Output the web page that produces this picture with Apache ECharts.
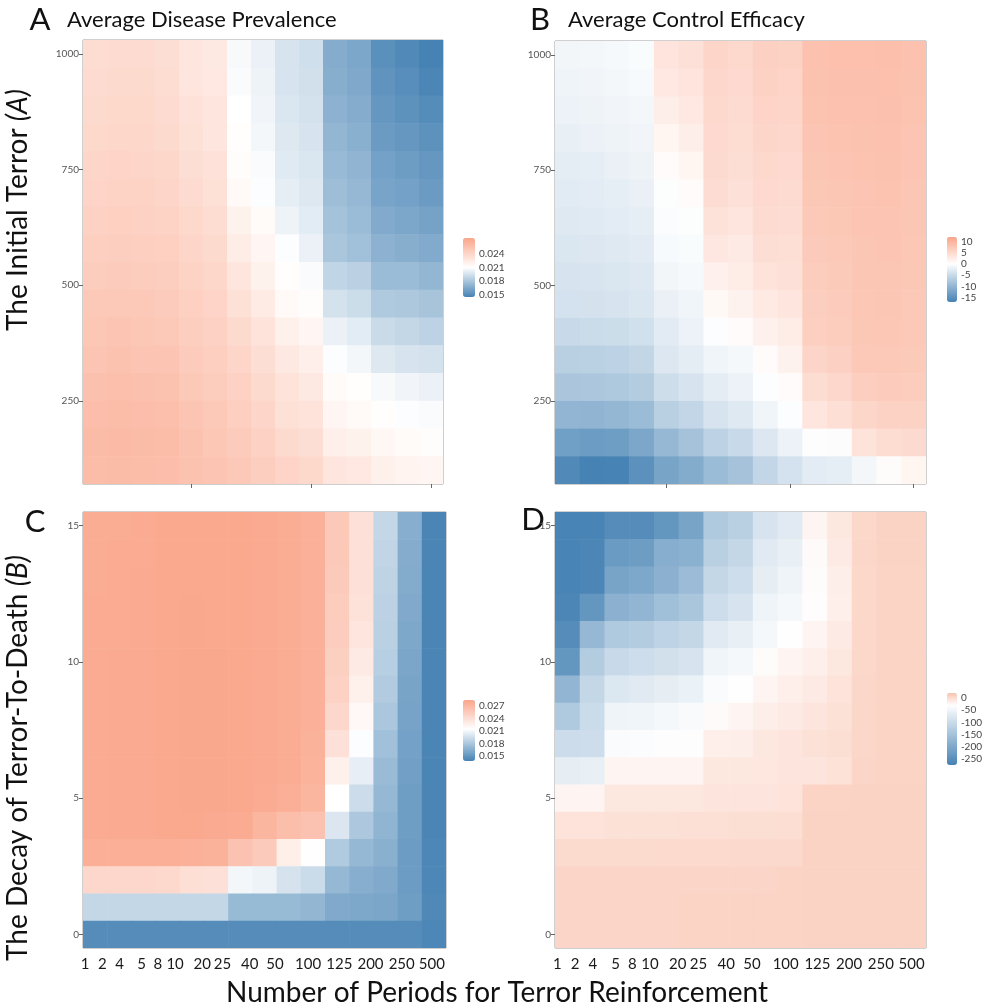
<!DOCTYPE html>
<html>
<head>
<meta charset="utf-8">
<script src="https://cdn.jsdelivr.net/npm/echarts@6/dist/echarts.min.js"></script>
<style>
html, body { margin: 0; padding: 0; background: #fff; }
#main { width: 985px; height: 1008px; }
</style>
</head>
<body>
<div id="main"></div>
<script>
// x categories shared by all four panels
var periods = ['1', '2', '4', '5', '8', '10', '20', '25', '40', '50', '100', '125', '200', '250', '500'];
// row levels, top row first
var terrorLevels = [1000, 940, 880, 820, 760, 700, 640, 580, 520, 460, 400, 340, 280, 220, 160, 100];
var decayLevels = [15, 14, 13, 12, 11, 10, 9, 8, 7, 6, 5, 4, 3, 2, 1, 0];
var terrorTicks = [250, 500, 750, 1000];
var decayTicks = [0, 5, 10, 15];

// A: average disease prevalence vs initial terror
var prevalenceByTerror = [
    [.0235, .0236, .0236, .0234, .0228, .0226, .0207, .0203, .0196, .0193, .0167, .0164, .0152, .0149, .0145],
    [.0236, .0237, .0237, .0235, .0229, .0227, .0208, .0204, .0196, .0194, .0168, .0165, .0154, .0151, .0147],
    [.0237, .0238, .0238, .0236, .0231, .0228, .0210, .0205, .0197, .0195, .0170, .0167, .0156, .0153, .0150],
    [.0238, .0239, .0239, .0237, .0232, .0229, .0211, .0206, .0198, .0196, .0172, .0169, .0158, .0156, .0153],
    [.0240, .0241, .0240, .0239, .0234, .0231, .0212, .0208, .0199, .0197, .0174, .0171, .0161, .0159, .0156],
    [.0241, .0242, .0242, .0240, .0236, .0233, .0214, .0209, .0201, .0198, .0176, .0173, .0163, .0161, .0158],
    [.0243, .0244, .0243, .0242, .0238, .0235, .0220, .0213, .0204, .0200, .0178, .0175, .0166, .0164, .0162],
    [.0245, .0246, .0245, .0244, .0240, .0237, .0224, .0217, .0209, .0203, .0180, .0177, .0170, .0168, .0166],
    [.0247, .0248, .0247, .0246, .0242, .0239, .0229, .0220, .0211, .0208, .0188, .0186, .0175, .0175, .0172],
    [.0249, .0250, .0249, .0248, .0244, .0241, .0233, .0225, .0214, .0212, .0195, .0192, .0182, .0181, .0179],
    [.0251, .0252, .0251, .0250, .0246, .0243, .0237, .0230, .0221, .0217, .0203, .0200, .0191, .0189, .0187],
    [.0253, .0254, .0253, .0252, .0248, .0245, .0240, .0234, .0226, .0222, .0209, .0206, .0198, .0196, .0195],
    [.0255, .0256, .0255, .0254, .0250, .0247, .0243, .0237, .0230, .0226, .0213, .0211, .0207, .0205, .0203],
    [.0257, .0258, .0257, .0256, .0252, .0249, .0245, .0240, .0233, .0230, .0217, .0214, .0211, .0209, .0208],
    [.0259, .0260, .0259, .0258, .0254, .0251, .0248, .0243, .0237, .0234, .0222, .0220, .0216, .0213, .0212],
    [.0258, .0259, .0258, .0257, .0254, .0252, .0250, .0246, .0241, .0238, .0228, .0227, .0221, .0218, .0217]
];

// B: average control efficacy vs initial terror
var efficacyByTerror = [
    [-1.2, -1.0, -0.8, -0.5, 3.6, 4.0, 5.6, 5.2, 6.2, 6.0, 8.2, 8.4, 8.4, 8.5, 8.2],
    [-1.5, -1.3, -1.0, -0.7, 3.1, 3.6, 5.4, 5.0, 6.0, 5.8, 8.1, 8.3, 8.3, 8.4, 8.1],
    [-1.8, -1.6, -1.3, -1.0, 2.3, 3.1, 5.2, 4.8, 5.8, 5.6, 8.0, 8.2, 8.2, 8.3, 8.0],
    [-2.1, -1.9, -1.6, -1.3, 1.3, 2.3, 5.0, 4.6, 5.5, 5.3, 7.8, 8.0, 8.1, 8.2, 7.9],
    [-2.5, -2.3, -2.0, -1.7, 0.5, 1.3, 4.9, 4.4, 5.2, 5.0, 7.6, 7.8, 8.0, 8.1, 7.8],
    [-2.8, -2.6, -2.3, -2.0, -0.2, 0.5, 4.5, 4.0, 5.0, 4.8, 7.4, 7.6, 7.9, 8.0, 7.7],
    [-3.0, -2.9, -2.6, -2.3, -0.4, -0.2, 3.9, 3.5, 4.7, 4.5, 7.2, 7.4, 7.8, 7.9, 7.6],
    [-3.4, -3.2, -3.0, -2.7, -0.7, -0.5, 3.2, 2.8, 4.4, 4.3, 7.0, 7.2, 7.7, 7.8, 7.5],
    [-3.7, -3.6, -3.4, -3.1, -1.2, -0.8, 2.0, 2.6, 3.8, 4.1, 6.8, 7.1, 7.6, 7.7, 7.4],
    [-4.0, -3.9, -3.7, -3.4, -2.0, -1.4, 0.9, 1.7, 2.9, 3.4, 6.6, 6.9, 7.5, 7.6, 7.3],
    [-5.0, -4.9, -4.7, -4.3, -2.7, -1.8, -0.3, 0.5, 2.0, 2.6, 6.5, 6.8, 7.4, 7.5, 7.2],
    [-6.4, -6.3, -6.0, -5.6, -3.2, -2.5, -1.4, -0.9, 0.5, 1.7, 5.7, 6.3, 7.2, 7.3, 7.1],
    [-7.8, -7.7, -7.5, -7.0, -4.6, -3.7, -2.5, -1.8, -0.3, 0.5, 4.6, 5.4, 6.6, 6.9, 6.8],
    [-10.0, -10.2, -9.8, -9.2, -6.4, -5.5, -3.7, -3.0, -1.4, -0.3, 3.4, 4.3, 5.5, 6.0, 6.0],
    [-13.0, -13.5, -13.2, -12.0, -9.6, -8.3, -6.0, -5.0, -3.2, -1.8, 0.0, 0.1, 3.8, 4.6, 4.9],
    [-16.0, -17.0, -16.8, -15.0, -12.4, -11.5, -9.2, -8.3, -5.5, -4.0, -2.6, -2.4, -1.0, 0.3, 1.3]
];

// C: average disease prevalence vs decay of terror-to-death
var prevalenceByDecay = [
    [.0279, .0279, .0280, .0282, .0282, .0282, .0282, .0281, .0279, .0276, .0258, .0239, .0190, .0165, .0140],
    [.0279, .0280, .0280, .0282, .0282, .0282, .0282, .0281, .0279, .0276, .0257, .0239, .0189, .0164, .0140],
    [.0279, .0280, .0281, .0282, .0282, .0282, .0282, .0281, .0279, .0276, .0256, .0238, .0188, .0163, .0140],
    [.0280, .0280, .0281, .0282, .0283, .0282, .0282, .0281, .0279, .0276, .0255, .0237, .0187, .0162, .0140],
    [.0280, .0280, .0281, .0282, .0283, .0282, .0282, .0281, .0279, .0276, .0254, .0235, .0186, .0161, .0140],
    [.0280, .0281, .0281, .0282, .0283, .0283, .0282, .0281, .0279, .0276, .0252, .0231, .0185, .0160, .0140],
    [.0280, .0281, .0281, .0282, .0283, .0283, .0282, .0281, .0279, .0276, .0250, .0227, .0183, .0159, .0140],
    [.0280, .0281, .0281, .0282, .0283, .0283, .0282, .0281, .0279, .0276, .0246, .0220, .0180, .0158, .0140],
    [.0280, .0281, .0281, .0282, .0283, .0283, .0282, .0281, .0279, .0275, .0238, .0214, .0176, .0157, .0140],
    [.0280, .0281, .0281, .0282, .0283, .0283, .0282, .0281, .0279, .0274, .0226, .0205, .0173, .0156, .0140],
    [.0280, .0281, .0281, .0282, .0283, .0283, .0282, .0280, .0277, .0272, .0215, .0194, .0171, .0155, .0140],
    [.0280, .0281, .0281, .0282, .0282, .0281, .0280, .0272, .0266, .0262, .0200, .0181, .0169, .0155, .0140],
    [.0277, .0277, .0277, .0277, .0276, .0275, .0262, .0256, .0228, .0216, .0182, .0171, .0166, .0154, .0141],
    [.0246, .0246, .0246, .0245, .0240, .0238, .0210, .0208, .0198, .0193, .0171, .0165, .0162, .0154, .0141],
    [.0190, .0190, .0190, .0190, .0190, .0190, .0172, .0172, .0172, .0170, .0162, .0161, .0160, .0155, .0142],
    [.0144, .0144, .0144, .0144, .0144, .0144, .0144, .0144, .0144, .0144, .0144, .0144, .0144, .0144, .0141]
];

// D: average control efficacy vs decay of terror-to-death
var efficacyByDecay = [
    [-272, -272, -255, -255, -235, -209, -136, -123, -83, -70, -22, -11, 3, 7, 7],
    [-272, -268, -227, -222, -189, -183, -123, -109, -70, -60, -27, -13, 4, 7, 7],
    [-272, -268, -209, -202, -182, -162, -109, -96, -63, -52, -28, -16, 3, 6, 6],
    [-268, -235, -182, -176, -156, -143, -96, -83, -52, -43, -29, -17, 3, 6, 6],
    [-255, -169, -136, -130, -116, -109, -70, -60, -43, -32, -22, -13, 3, 6, 6],
    [-235, -130, -103, -96, -90, -83, -50, -43, -28, -22, -17, -11, 3, 6, 6],
    [-176, -109, -76, -70, -63, -56, -37, -32, -22, -17, -13, -7, 4, 6, 6],
    [-136, -101, -52, -50, -43, -39, -27, -22, -16, -13, -9, -5, 4, 6, 6],
    [-98, -96, -37, -35, -31, -30, -17, -16, -11, -9, -5, -3, 4, 6, 6],
    [-63, -60, -22, -22, -22, -22, -11, -11, -10, -9, -8, -6, 5, 6, 6],
    [-22, -22, -11, -11, -11, -11, -9, -9, -8, -7, 6, 6, 7, 7, 7],
    [-7, -7, -5, -5, -5, -4, -4, -3, -3, -2, 7, 7, 7, 7, 7],
    [0, 0, 0, 0, 1, 1, 1, 2, 2, 2, 7, 7, 7, 7, 7],
    [5, 5, 5, 5, 5, 5, 5, 5, 5, 6, 7, 7, 7, 7, 7],
    [5.5, 5.5, 5.5, 5.5, 5.5, 6, 6, 6, 6, 6, 7, 7, 7, 7, 7],
    [5.5, 5.5, 5.5, 5.5, 5.5, 6, 6, 6, 6, 6, 7, 7, 7, 7, 7]
];

// colour bar labels
var legendTicksA = [0.015, 0.018, 0.021, 0.024];
var legendTicksB = [-15, -10, -5, 0, 5, 10];
var legendTicksC = [0.015, 0.018, 0.021, 0.024, 0.027];
var legendTicksD = [-250, -200, -150, -100, -50, 0];

var FONT = 'Lato, "Open Sans", sans-serif';
var STEEL = [70, 130, 180];
// the period labels in the original sit left of their columns (px, per label)
var labelShift = [-10, -17, -24, -26, -34, -41, -38, -42, -39, -38, -29, -22, -15, -8, -2];

function mix(a, b, t) {
    return 'rgb(' + [0, 1, 2].map(function (i) {
        return Math.round(a[i] + (b[i] - a[i]) * t);
    }).join(',') + ')';
}
// diverging ramp: steelblue -> white (at mid) -> high
function ramp(min, mid, max, high) {
    var out = [];
    for (var i = 0; i <= 40; i++) {
        var v = min + (max - min) * i / 40;
        out.push(v < mid ? mix(STEEL, [255, 255, 255], (v - min) / (mid - min))
                         : mix([255, 255, 255], high, (v - mid) / (max - mid)));
    }
    return out;
}

function cellData(levels, values) {
    var out = [];
    levels.forEach(function (y, r) {
        values[r].forEach(function (v, c) {
            out.push([c, y, v]);
        });
    });
    return out;
}

function cellRenderer(step) {
    return function (params, api) {
        var p = api.coord([api.value(0), api.value(1)]);
        var s = api.size([1, step]);
        return {
            type: 'rect',
            shape: { x: p[0] - s[0] / 2, y: p[1] - s[1] / 2, width: s[0] + 0.6, height: s[1] + 0.6 },
            style: { fill: api.visual('color') }
        };
    };
}

var shiftRich = {};
labelShift.forEach(function (s, i) {
    shiftRich['s' + i] = {
        fontSize: 15, fontFamily: FONT, color: '#1a1a1a',
        padding: s < 0 ? [0, -2 * s, 0, 0] : [0, 0, 0, 2 * s]
    };
});

var panels = [
    { grid: { left: 83, top: 40, width: 360, height: 444 }, levels: terrorLevels, values: prevalenceByTerror,
      step: 60, ymin: 70, ymax: 1030, yTicks: terrorTicks, bottom: false,
      scale: [0.0145, 0.021, 0.0275, [250, 165, 138]],
      bar: { left: 463, top: 238, width: 12, height: 59 }, ticks: legendTicksA, digits: 3 },
    { grid: { left: 555, top: 41, width: 371, height: 443 }, levels: terrorLevels, values: efficacyByTerror,
      step: 60, ymin: 70, ymax: 1030, yTicks: terrorTicks, bottom: false,
      scale: [-17, 0, 12, [250, 165, 138]],
      bar: { left: 947, top: 237, width: 10, height: 65 }, ticks: legendTicksB, digits: 0 },
    { grid: { left: 83, top: 512, width: 363, height: 436 }, levels: decayLevels, values: prevalenceByDecay,
      step: 1, ymin: -0.5, ymax: 15.5, yTicks: decayTicks, bottom: true,
      scale: [0.0138, 0.0215, 0.0285, [250, 165, 138]],
      bar: { left: 463, top: 700, width: 12, height: 61 }, ticks: legendTicksC, digits: 3 },
    { grid: { left: 555, top: 512, width: 371, height: 436 }, levels: decayLevels, values: efficacyByDecay,
      step: 1, ymin: -0.5, ymax: 15.5, yTicks: decayTicks, bottom: true,
      scale: [-275, -30, 20, [250, 195, 175]],
      bar: { left: 947, top: 693, width: 10, height: 72 }, ticks: legendTicksD, digits: 0 }
];

var grids = [], xAxes = [], yAxes = [], series = [], visualMaps = [];

panels.forEach(function (p, i) {
    grids.push(Object.assign({ show: true, borderColor: '#a0a0a0', borderWidth: 1, backgroundColor: '#fff' }, p.grid));
    xAxes.push({
        type: 'category', gridIndex: i, data: periods,
        axisLine: { show: false },
        axisTick: { show: true, alignWithLabel: true, length: 4, lineStyle: { color: '#666' },
                    interval: function (idx) { return idx % 5 === 4; } },
        axisLabel: {
            show: p.bottom, interval: 0, margin: 9, fontSize: 15, fontFamily: FONT, color: '#1a1a1a',
            formatter: function (v, idx) { return '{s' + idx + '|' + v + '}'; },
            rich: shiftRich
        },
        splitLine: { show: false }
    });
    yAxes.push({
        type: 'value', gridIndex: i, min: p.ymin, max: p.ymax,
        axisLine: { show: false },
        axisTick: { show: true, length: 4, customValues: p.yTicks, lineStyle: { color: '#666' } },
        axisLabel: { customValues: p.yTicks, fontSize: 10, color: '#555', fontFamily: FONT, margin: 4,
                     formatter: function (v) { return String(v); } },
        splitLine: { show: false }
    });
    series.push({
        type: 'custom', name: 'panel' + i, xAxisIndex: i, yAxisIndex: i,
        data: cellData(p.levels, p.values), renderItem: cellRenderer(p.step),
        silent: true, clip: true
    });
    visualMaps.push({
        type: 'continuous', seriesIndex: i, dimension: 2,
        min: p.scale[0], max: p.scale[2],
        inRange: { color: ramp(p.scale[0], p.scale[1], p.scale[2], p.scale[3]) },
        calculable: false, hoverLink: false, padding: 0,
        left: p.bar.left, top: p.bar.top, itemWidth: p.bar.width, itemHeight: p.bar.height
    });
});

// small axes beside each colour bar to carry its labels
panels.forEach(function (p, i) {
    var g = grids.length;
    grids.push({ left: p.bar.left, top: p.bar.top, width: p.bar.width, height: p.bar.height });
    xAxes.push({ type: 'value', gridIndex: g, show: false, min: 0, max: 1 });
    yAxes.push({
        type: 'value', gridIndex: g, position: 'right', min: p.scale[0], max: p.scale[2],
        axisLine: { show: false }, axisTick: { show: false }, splitLine: { show: false },
        axisLabel: {
            customValues: p.ticks, fontSize: 10, color: '#444', fontFamily: FONT, margin: 4,
            formatter: function (v) { return p.digits ? v.toFixed(p.digits) : String(Math.round(v)); }
        }
    });
});

var chart = echarts.init(document.getElementById('main'));
chart.setOption({
    animation: false,
    backgroundColor: '#fff',
    grid: grids,
    xAxis: xAxes,
    yAxis: yAxes,
    visualMap: visualMaps,
    series: series,
    graphic: [
        { type: 'text', x: 40, y: 20, style: { text: 'A', fontSize: 31, fontFamily: FONT, fill: '#111', align: 'center', verticalAlign: 'middle' } },
        { type: 'text', x: 67, y: 20, style: { text: 'Average Disease Prevalence', fontSize: 22, fontFamily: FONT, fill: '#111', align: 'left', verticalAlign: 'middle' } },
        { type: 'text', x: 540, y: 20, style: { text: 'B', fontSize: 31, fontFamily: FONT, fill: '#111', align: 'center', verticalAlign: 'middle' } },
        { type: 'text', x: 568, y: 20, style: { text: 'Average Control Efficacy', fontSize: 22, fontFamily: FONT, fill: '#111', align: 'left', verticalAlign: 'middle' } },
        { type: 'text', x: 35, y: 522, style: { text: 'C', fontSize: 31, fontFamily: FONT, fill: '#111', align: 'center', verticalAlign: 'middle' } },
        { type: 'text', x: 533, y: 520, style: { text: 'D', fontSize: 31, fontFamily: FONT, fill: '#111', align: 'center', verticalAlign: 'middle' } },
        { type: 'text', x: 18, y: 210, rotation: Math.PI / 2,
          style: { text: 'The Initial Terror {i|(A)}', fontSize: 28, fontFamily: FONT, fill: '#111', align: 'center', verticalAlign: 'middle',
                   rich: { i: { fontStyle: 'italic', fontSize: 28, fontFamily: FONT, fill: '#111' } } } },
        { type: 'text', x: 18, y: 758, rotation: Math.PI / 2,
          style: { text: 'The Decay of Terror-To-Death {i|(B)}', fontSize: 28, fontFamily: FONT, fill: '#111', align: 'center', verticalAlign: 'middle',
                   rich: { i: { fontStyle: 'italic', fontSize: 28, fontFamily: FONT, fill: '#111' } } } },
        { type: 'text', x: 497, y: 993, style: { text: 'Number of Periods for Terror Reinforcement', fontSize: 28, fontFamily: FONT, fill: '#111', align: 'center', verticalAlign: 'middle' } }
    ]
});
</script>
</body>
</html>
